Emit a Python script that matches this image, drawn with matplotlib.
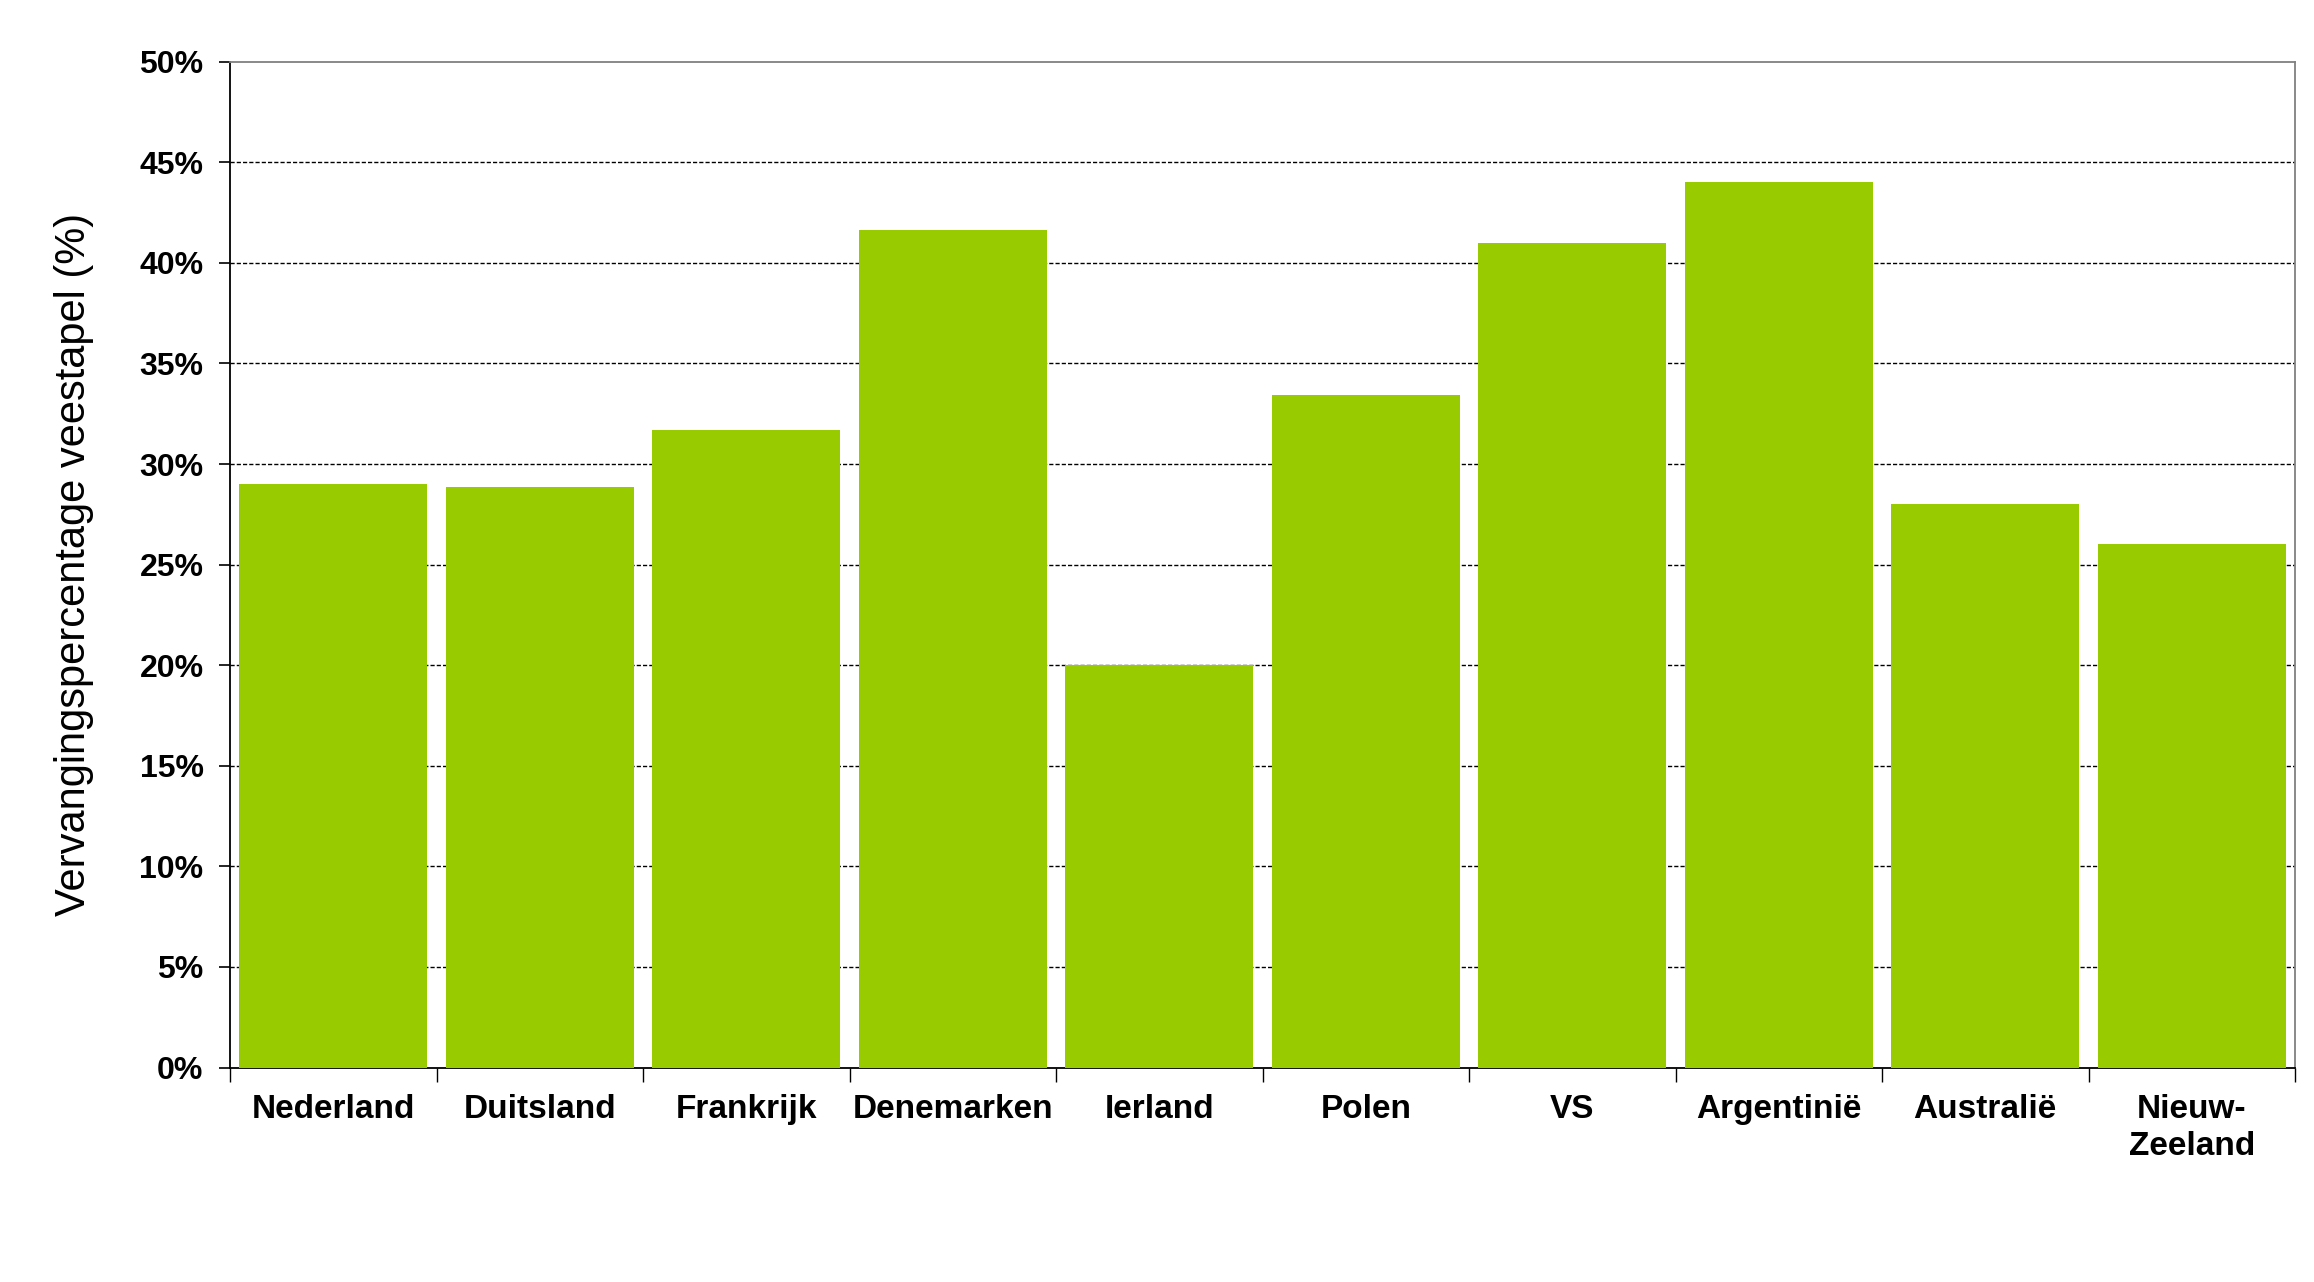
import matplotlib.pyplot as plt
from matplotlib.ticker import FixedLocator, FuncFormatter

landen = ["Nederland", "Duitsland", "Frankrijk", "Denemarken", "Ierland",
          "Polen", "VS", "Argentinië", "Australië", "Nieuw-\nZeeland"]
vervanging = [29.0, 28.85, 31.7, 41.65, 20.0, 33.45, 41.0, 44.0, 28.0, 26.0]
yticks = [0, 5, 10, 15, 20, 25, 30, 35, 40, 45, 50]

plt.rcParams['font.family'] = ['Liberation Sans', 'DejaVu Sans']

fig = plt.figure(figsize=(23.14, 12.82), dpi=100)
ax = fig.add_axes([0.0994, 0.1673, 0.8924, 0.7846])

x = list(range(len(landen)))
ax.bar(x, vervanging, width=0.91, color="#99CC00", zorder=3)

ax.set_xlim(-0.5, len(landen) - 0.5)
ax.set_ylim(0, 50)
ax.set_yticks(yticks)
ax.yaxis.set_major_formatter(FuncFormatter(lambda v, p: f"{v:.0f}%"))
ax.tick_params(axis="y", direction="out", length=8, width=1.2, pad=11,
               labelsize=23)
for lbl in ax.get_yticklabels():
    lbl.set_fontweight("bold")

ax.set_xticks(x)
ax.set_xticklabels(landen, fontsize=24, fontweight="bold", linespacing=1.25)
ax.tick_params(axis="x", which="major", length=0, pad=19)
ax.xaxis.set_minor_locator(FixedLocator([i - 0.5 for i in range(len(landen) + 1)]))
ax.tick_params(axis="x", which="minor", direction="out", length=10, width=1)

for v in yticks[1:-1]:
    ax.axhline(v, color="black", lw=1.0, ls=(0, (3, 1.5)), zorder=1)

ax.spines["left"].set_color("black")
ax.spines["left"].set_linewidth(1.3)
ax.spines["bottom"].set_color("black")
ax.spines["bottom"].set_linewidth(1.3)
ax.spines["top"].set_color("#808080")
ax.spines["right"].set_color("#808080")
ax.spines["top"].set_linewidth(1.3)
ax.spines["right"].set_linewidth(1.3)

ax.set_ylabel("Vervangingspercentage veestapel (%)", fontsize=30)
ax.yaxis.set_label_coords(-0.066, 0.5)

fig.savefig("out.png", dpi=100, facecolor="white")
